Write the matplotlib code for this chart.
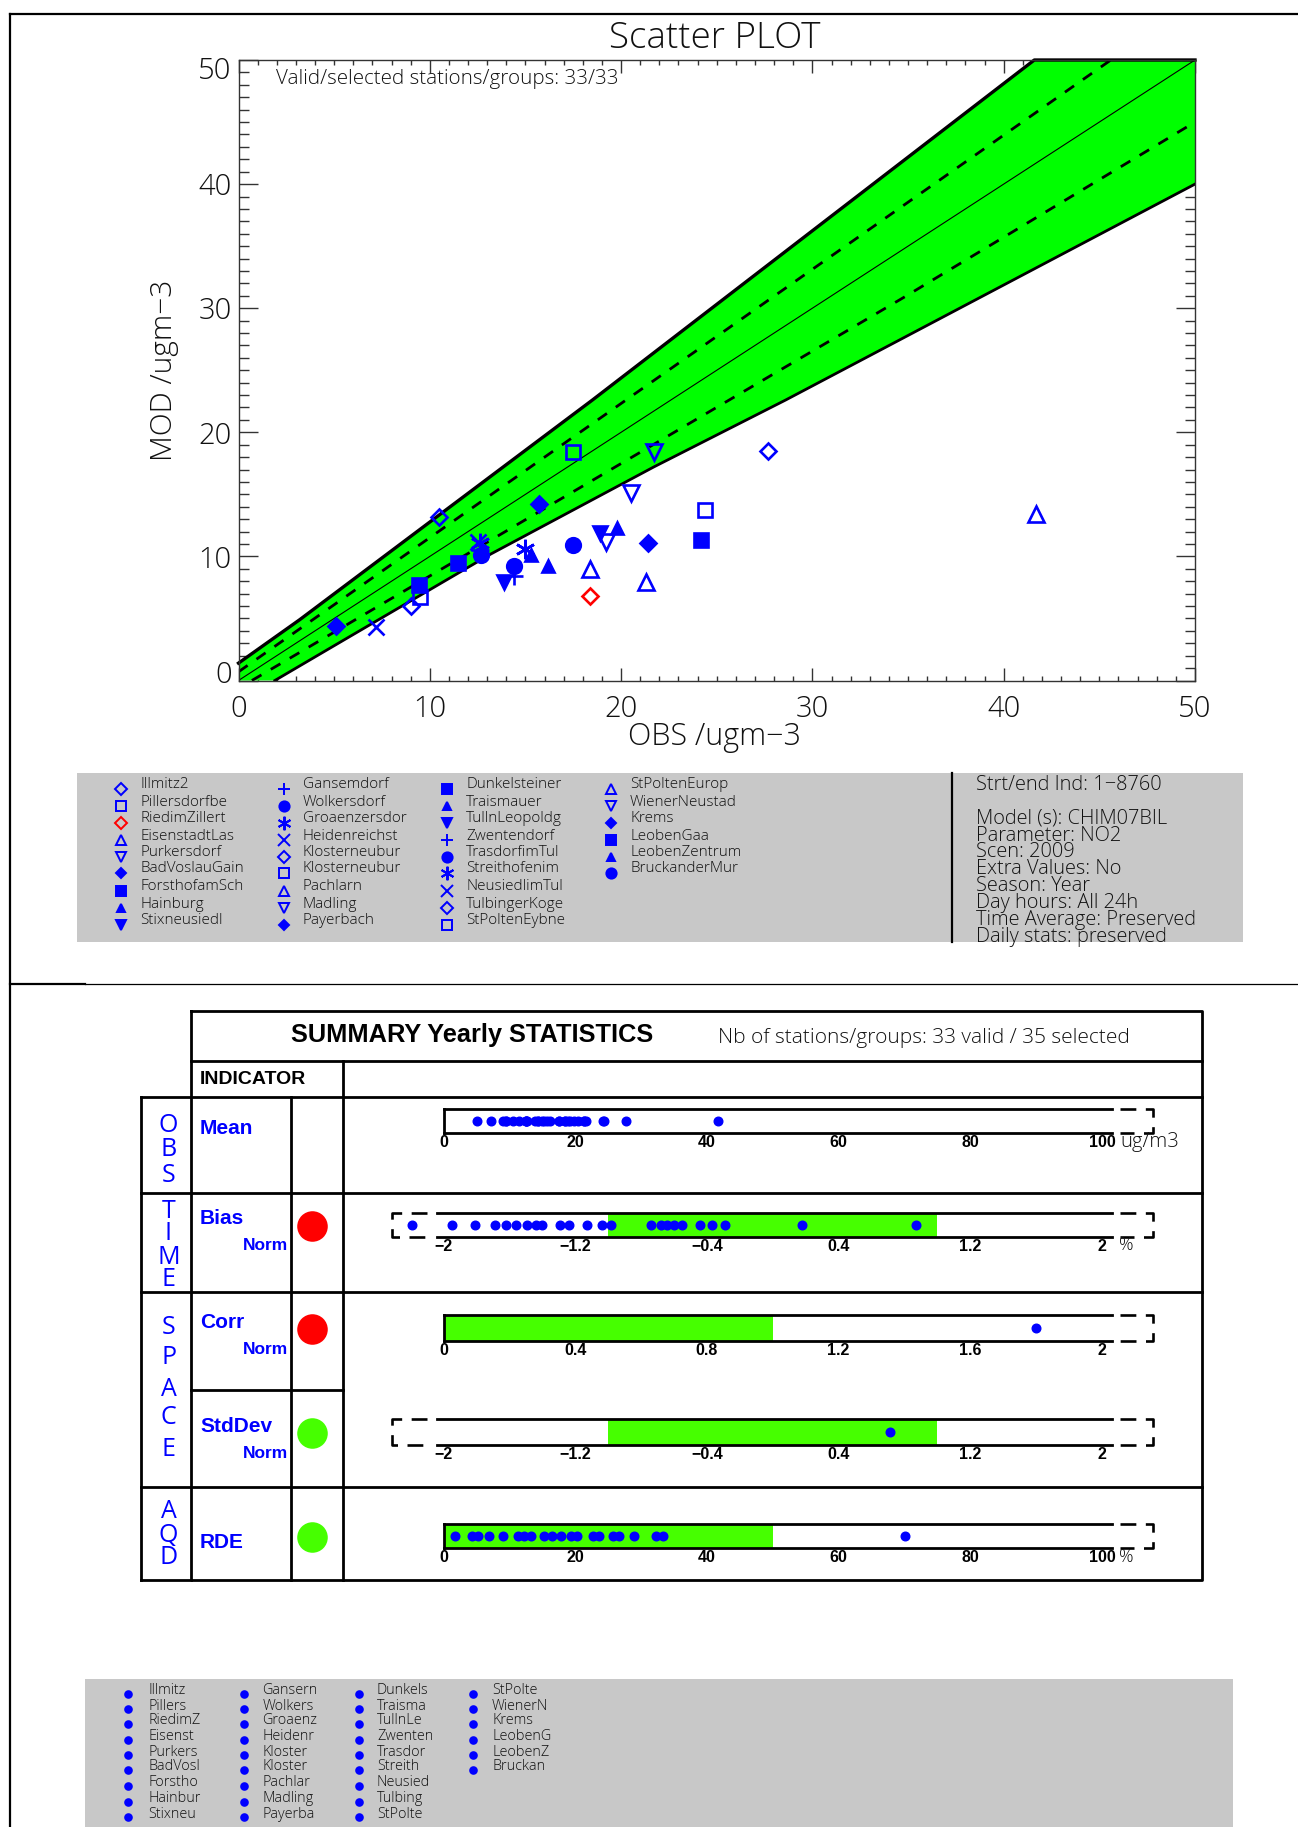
import numpy as np
import matplotlib
matplotlib.use('Agg')
import matplotlib.pyplot as plt
from matplotlib.patches import Rectangle
from matplotlib.transforms import ScaledTranslation

plt.rcParams['font.family'] = ['Open Sans', 'DejaVu Sans']
plt.rcParams['font.weight'] = 'light'

W, H = 1298, 1827

# ─── Data ──────────────────────────────────────────────────────────────────
stations = ['Illmitz2', 'Pillersdorfbe', 'RiedimZillert', 'EisenstadtLas', 'Purkersdorf',
            'BadVoslauGain', 'ForsthofamSch', 'Hainburg', 'Stixneusiedl',
            'Gansemdorf', 'Wolkersdorf', 'Groaenzersdor', 'Heidenreichst', 'Klosterneubur',
            'Klosterneubur', 'Pachlarn', 'Madling', 'Payerbach',
            'Dunkelsteiner', 'Traismauer', 'TullnLeopoldg', 'Zwentendorf', 'TrasdorfimTul',
            'Streithofenim', 'NeusiedlimTul', 'TulbingerKoge', 'StPoltenEybne',
            'StPoltenEurop', 'WienerNeustad', 'Krems', 'LeobenGaa', 'LeobenZentrum',
            'BruckanderMur']
short_names = ['Illmitz', 'Pillers', 'RiedimZ', 'Eisenst', 'Purkers', 'BadVosl', 'Forstho',
               'Hainbur', 'Stixneu', 'Gansern', 'Wolkers', 'Groaenz', 'Heidenr', 'Kloster',
               'Kloster', 'Pachlar', 'Madling', 'Payerba', 'Dunkels', 'Traisma', 'TullnLe',
               'Zwenten', 'Trasdor', 'Streith', 'Neusied', 'Tulbing', 'StPolte', 'StPolte',
               'WienerN', 'Krems', 'LeobenG', 'LeobenZ', 'Bruckan']
obs = [9.0, 9.5, 18.4, 18.4, 20.5, 15.7, 9.45, 16.2, 13.9,
       14.4, 14.4, 15.0, 7.2, 10.5, 17.5, 21.3, 21.7, 5.1,
       11.5, 15.3, 18.9, 12.6, 12.7, 12.6, 12.5, 27.7, 24.4,
       41.7, 19.2, 21.4, 24.2, 19.8, 17.5]
mod = [6.0, 6.7, 6.8, 9.0, 15.1, 14.2, 7.7, 9.2, 7.9,
       8.4, 9.2, 10.6, 4.3, 13.2, 18.4, 7.9, 18.4, 4.4,
       9.5, 10.1, 11.9, 10.5, 10.1, 11.1, 11.2, 18.5, 13.7,
       13.4, 11.2, 11.1, 11.3, 12.3, 10.9]

upper_x = [0, 3.2, 10.2, 18.5, 41.6, 50]
upper_y = [1.4, 4.9, 13.0, 22.6, 50, 50]
lower_x = [0, 1.9, 5.66, 13.2, 21.7, 28.6, 50]
lower_y = [0, 0, 3.4, 10.2, 17.2, 22.6, 40]
dash_up_x = [0, 45.6]
dash_up_y = [0.7, 50]
dash_lo_x = [0.7, 34.7, 50]
dash_lo_y = [0, 30.8, 45]

bias_norm = [-2.19, -1.95, -1.81, -1.69, -1.62, -1.56, -1.49, -1.44, -1.40, -1.29, -1.24, -1.13,
             -1.04, -0.98, -0.74, -0.68, -0.64, -0.60, -0.55, -0.44, -0.37, -0.29, 0.18, 0.87]
corr_norm = [1.80]
stddev_norm = [0.71]
rde = [1.7, 4.3, 5.3, 6.9, 9.1, 11.3, 12.3, 13.3, 15.2, 16.5, 17.9, 19.3, 20.3, 22.7, 23.6,
       25.7, 26.7, 28.9, 32.3, 33.4, 70.1]

axis_major = [0, 10, 20, 30, 40, 50]
axis_minor = list(range(0, 51))
pct_ticks = [0, 20, 40, 60, 80, 100]
pos_ticks = [0, 0.4, 0.8, 1.2, 1.6, 2]
sym_ticks = [-2, -1.2, -0.4, 0.4, 1.2, 2]
pct_labels = ['0', '20', '40', '60', '80', '100']
pos_labels = ['0', '0.4', '0.8', '1.2', '1.6', '2']
sym_labels = ['\u22122', '\u22121.2', '\u22120.4', '0.4', '1.2', '2']

info_lines = ['Strt/end Ind: 1\u22128760', '', 'Model (s): CHIM07BIL', 'Parameter: NO2', 'Scen: 2009',
              'Extra Values: No', 'Season: Year', 'Day hours: All 24h',
              'Time Average: Preserved', 'Daily stats: preserved']

BLUE = '#0000ff'
RED = '#ff0000'
GREY = '#c8c8c8'
BAND = '#00ff00'
GOOD = '#46ff00'
INK = '#111111'

# marker, filled, size (pt) for each station in legend order
M = {'d': ('D', False, 8.5), 'r': ('D', False, 8.5), 's': ('s', False, 9.5), 't': ('^', False, 11.0),
     'v': ('v', False, 11.0), 'D': ('D', True, 8.0), 'S': ('s', True, 9.5), 'T': ('^', True, 8.5),
     'V': ('v', True, 10.5), 'p': ('+', False, 13.0), 'o': ('o', True, 10.5),
     'a': ((6, 2, 0), False, 14.0), 'x': ('x', False, 11.5)}
symbol_order = 'dsrtvDSTV' 'poaxdstvD' 'STVpoaxds' 'tvDSTo'


def draw_symbol(ax, x, y, code, scale=1.0, **kw):
    marker, filled, size = M[code]
    color = RED if code == 'r' else BLUE
    ax.plot([x], [y], marker=marker, ms=size * scale, mfc=color if filled else 'none', mec=color,
            mew=1.9 * max(scale, 0.75), ls='none', clip_on=False, **kw)


def px_axes(left, top, right, bottom):
    return fig.add_axes([left / W, 1 - bottom / H, (right - left) / W, (bottom - top) / H])


fig = plt.figure(figsize=(W / 100, H / 100), dpi=100, facecolor='white')

# ─── Scatter plot ──────────────────────────────────────────────────────────
ax = px_axes(238.5, 60, 1195, 680.5)
ax.set_xlim(0, 50)
ax.set_ylim(0, 50)
ax.set_axisbelow(True)
ax.fill(upper_x + lower_x[::-1], upper_y + lower_y[::-1], color=BAND, lw=0, zorder=1)
ax.plot(upper_x, upper_y, color='black', lw=2.4, zorder=2, clip_on=False)
ax.plot(lower_x[1:], lower_y[1:], color='black', lw=2.0, zorder=2)
ax.plot([0, 50], [0, 50], color='black', lw=0.8, zorder=2)
ax.plot(dash_up_x, dash_up_y, color='black', lw=2.0, ls=(0, (4.0, 3.9)), zorder=2)
ax.plot(dash_lo_x, dash_lo_y, color='black', lw=2.0, ls=(0, (4.0, 3.9)), zorder=2)
for x, y, code in zip(obs, mod, symbol_order):
    draw_symbol(ax, x, y, code, zorder=3)

ax.set_xticks(axis_major)
ax.set_yticks(axis_major)
ax.set_xticks(axis_minor, minor=True)
ax.set_yticks(axis_minor, minor=True)
ax.tick_params(which='both', direction='in', top=True, right=True, color='#333333', width=1.0)
ax.tick_params(axis='x', which='major', length=9.5, labelsize=21, pad=10, labelcolor=INK)
ax.tick_params(axis='x', which='minor', length=3.8)
ax.tick_params(axis='y', which='major', length=13.5, labelsize=21, pad=5, labelcolor=INK)
ax.tick_params(axis='y', which='minor', length=7)
for side in ax.spines.values():
    side.set_color('#333333')
    side.set_linewidth(1.0)
# the end labels of the y axis sit a little inside the axis range
ylabels = ax.get_yticklabels()
ylabels[0].set_transform(ylabels[0].get_transform() + ScaledTranslation(0, 9 / 100, fig.dpi_scale_trans))
ylabels[-1].set_transform(ylabels[-1].get_transform() + ScaledTranslation(0, -7.5 / 100, fig.dpi_scale_trans))

# ─── Strips of the summary table ───────────────────────────────────────────
strips = [
    (1109, 1133, (0, 100), obs, pct_ticks, pct_labels, None, False),
    (1213, 1237, (-2, 2), bias_norm, sym_ticks, sym_labels, (-1, 1), True),
    (1315, 1341, (0, 2), corr_norm, pos_ticks, pos_labels, (0, 1), False),
    (1419, 1445, (-2, 2), stddev_norm, sym_ticks, sym_labels, (-1, 1), True),
    (1524, 1548, (0, 100), rde, pct_ticks, pct_labels, (0, 50), False),
]
for top, bottom, lims, vals, ticks, labels, good, symmetric in strips:
    s = px_axes(443.5, top, 1102, bottom)
    s.set_xlim(*lims)
    s.set_ylim(0, 1)
    s.patch.set_alpha(0)
    for side in s.spines.values():
        side.set_visible(False)
    s.set_yticks([])
    s.set_xticks(ticks)
    s.set_xticklabels(labels, fontsize=11.5, fontweight='bold', color='black', family=['Liberation Sans'])
    s.tick_params(axis='x', length=0, pad=1.5)
    if good:
        s.axvspan(good[0], good[1], color=GOOD, lw=0)
    s.plot(vals, [0.5] * len(vals), 'o', color=BLUE, ms=6.2, clip_on=False)

# ─── Page overlay: frames, panels, text ────────────────────────────────────
page = fig.add_axes([0, 0, 1, 1], zorder=5)
page.set_xlim(0, W)
page.set_ylim(H, 0)
page.axis('off')


def line(xs, ys, lw=2.0, color='black', **kw):
    page.plot(xs, ys, color=color, lw=lw, solid_capstyle='projecting', **kw)


def label(x, y, text, size, color=INK, ha='left', va='center', **kw):
    return page.text(x, y, text, fontsize=size, color=color, ha=ha, va=va, **kw)


# outer frame
line([10, 10], [14, H], lw=1.6)
line([10, W], [14, 14], lw=1.6)
line([10, 85], [984, 984], lw=1.6)
line([85, W], [984, 984], lw=0.9)

label(715, 38, 'Scatter PLOT', 26.5, ha='center')
label(276, 79, 'Valid/selected stations/groups: 33/33', 14.8)
label(715, 737, 'OBS /ugm\u22123', 22, ha='center')
label(164, 370, 'MOD /ugm\u22123', 21.5, ha='center', rotation=90)

# upper legend panel
panel = Rectangle((77, 773), 1243 - 77, 942 - 773, fc=GREY, ec='none', zorder=0)
page.add_patch(panel)
line([951.5, 951.5], [773, 942], lw=1.6)
rows_top = [785, 802, 819, 836, 853, 869, 887, 904, 921]
cols_mark = [121, 284, 447, 611]
cols_text = [140, 303, 466, 630]
for i, name in enumerate(stations):
    col, row = divmod(i, 9)
    draw_symbol(page, cols_mark[col], rows_top[row] + 4, symbol_order[i], scale=0.7)
    label(cols_text[col], rows_top[row], name, 11)
info_rows = [785, 802, 819, 836, 852, 869, 886, 903, 920, 937]
for y, txt in zip(info_rows, info_lines):
    t = label(976, y, txt, 14.4)
    t.set_clip_path(panel)

# summary table
line([191, 1202, 1202, 191, 191], [1011, 1011, 1580, 1580, 1011])
line([191, 1202], [1061, 1061])
line([141, 1202], [1097, 1097])
line([141, 1202], [1193, 1193])
line([141, 1202], [1292, 1292])
line([141, 1202], [1487, 1487])
line([141, 191], [1580, 1580])
line([191, 343], [1390, 1390])
line([141, 141], [1097, 1580])
line([291, 291], [1097, 1580])
line([343, 343], [1061, 1580])

label(291, 1035, 'SUMMARY Yearly STATISTICS', 18.3, color='black', fontweight='bold', family=['Liberation Sans'])
label(718, 1038, 'Nb of stations/groups: 33 valid / 35 selected', 15)
label(200, 1079, 'INDICATOR', 14, color='black', fontweight='bold', family=['Liberation Sans'])

for letters, ys in [('OBS', [1126, 1150, 1175]), ('TIME', [1212, 1234, 1258, 1279]),
                    ('SPACE', [1327, 1357, 1389, 1418, 1449]), ('AQD', [1511, 1535, 1558])]:
    for ch, y in zip(letters, ys):
        label(168.5, y, ch, 18, color=BLUE, ha='center', fontweight='normal')

for y, txt in [(1129, 'Mean'), (1219, 'Bias'), (1323, 'Corr'), (1427, 'StdDev'), (1543, 'RDE')]:
    label(200, y, txt, 15, color=BLUE, fontweight='bold', family=['Liberation Sans'])
for y in [1246, 1349, 1453]:
    label(288, y, 'Norm', 12.5, color=BLUE, ha='right', fontweight='bold', family=['Liberation Sans'])

for y, color in [(1226, RED), (1329, RED), (1433, GOOD), (1537, GOOD)]:
    page.plot([312], [y], 'o', color=color, ms=22, mew=0)

dash = (0, (6.0, 3.6))
for top, bottom, lims, vals, ticks, labels, good, symmetric in strips:
    line([437 if symmetric else 443.5, 1112], [top, top])
    line([437 if symmetric else 443.5, 1112], [bottom, bottom])
    page.plot([1120, 1153, 1153, 1120], [top, top, bottom, bottom], color='black', lw=1.9, ls=dash)
    if symmetric:
        page.plot([427, 392, 392, 427], [top, top, bottom, bottom], color='black', lw=1.9, ls=dash)
    else:
        line([443.5, 443.5], [top, bottom])

label(1120.5, 1142, 'ug/m3', 14.6)
label(1126, 1245, '%', 13, ha='center')
label(1126, 1557, '%', 13, ha='center')

# lower legend panel
page.add_patch(Rectangle((85, 1679), 1233 - 85, H - 1679, fc=GREY, ec='none', zorder=0))
rows_low = [1691, 1706, 1721, 1737, 1752, 1767, 1783, 1799, 1814]
cols_dot = [128, 244, 359, 473]
cols_low = [148, 262.5, 377, 492]
for i, name in enumerate(short_names):
    col, row = divmod(i, 9)
    page.plot([cols_dot[col]], [rows_low[row] + 3], 'o', color=BLUE, ms=6.2, mew=0)
    label(cols_low[col], rows_low[row], name, 10.4)

page.set_xlim(0, W)
page.set_ylim(H, 0)
fig.savefig('out.png', dpi=100, facecolor='white')
